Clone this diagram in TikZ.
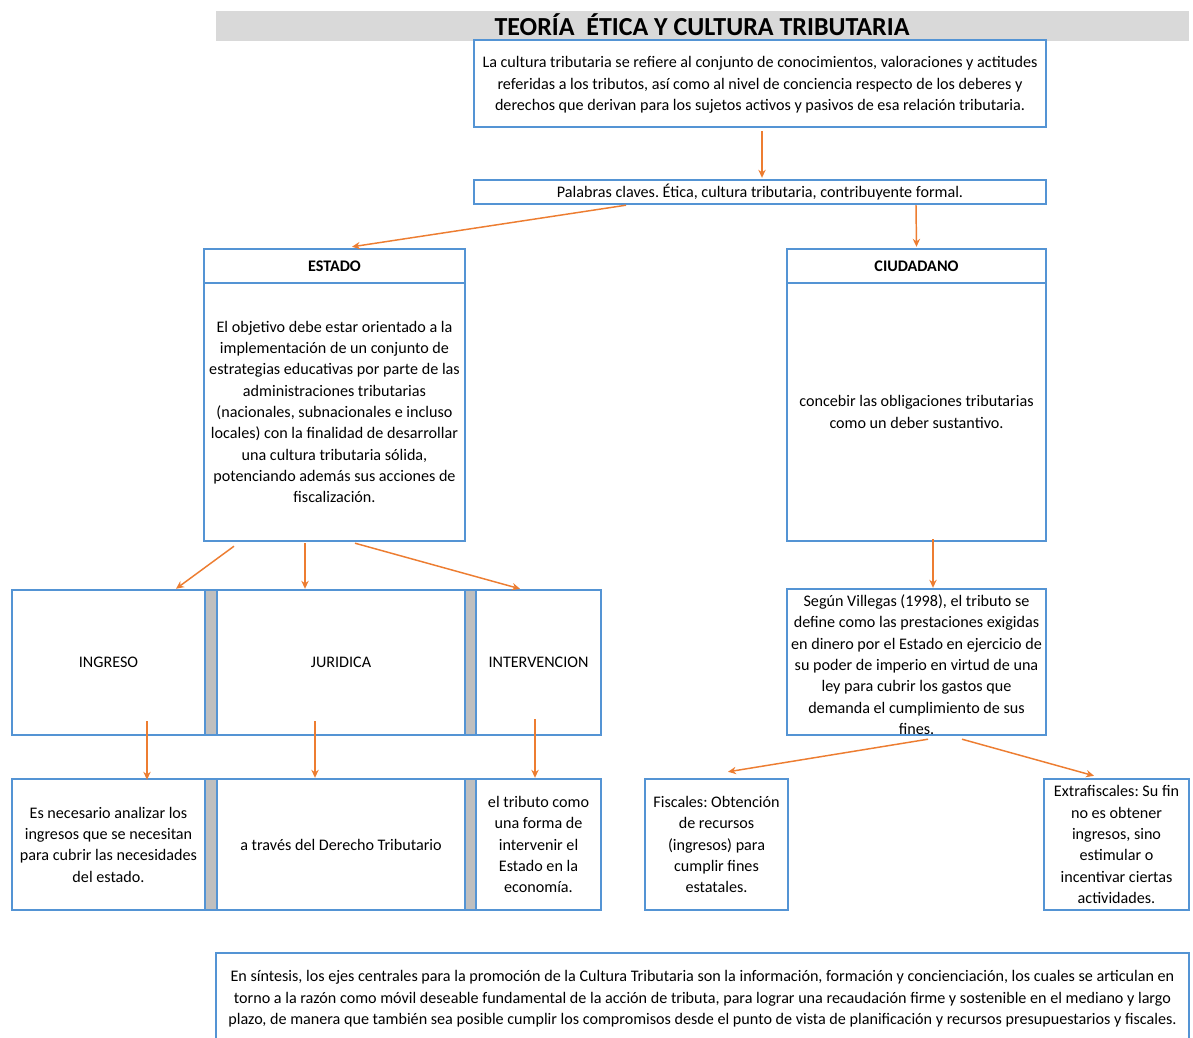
\documentclass[tikz,border=0pt]{standalone}
\usepackage{fontspec}
\setmainfont{Carlito}
\usetikzlibrary{arrows.meta,calc}
\definecolor{bblue}{RGB}{84,148,212}
\definecolor{arrorange}{RGB}{237,125,49}
\definecolor{titlegray}{RGB}{217,217,217}
\definecolor{sepgray}{RGB}{191,191,191}
\frenchspacing
\begin{document}
\begin{tikzpicture}[x=0.75pt,y=-0.75pt,
  sz/.style 2 args={minimum width=#1*0.75pt, minimum height=#2*0.75pt},
  box/.style={draw=bblue, line width=1.8pt, fill=white, inner sep=0pt, align=center,
    font=\fontsize{12.1}{16}\selectfont},
  hdr/.style={box, font=\bfseries\fontsize{12.1}{16}\selectfont},
  sepbar/.style={draw=bblue, line width=1.3pt, fill=sepgray, inner sep=0pt},
  arr/.style={draw=arrorange, line width=1.1pt, -{Stealth[length=6pt,width=5.5pt]}}]
\clip (0,0) rectangle (1193,1038);
\fill[white] (0,0) rectangle (1193,1038);
% title
\node[fill=titlegray, sz={973}{30}, inner sep=0pt] (title) at (702.5,26) {};
\node[inner sep=0pt, font=\bfseries\fontsize{19.5}{22}\selectfont] (titletxt) at (702,24.5) {TEORÍA~~ÉTICA Y CULTURA TRIBUTARIA};
% top
\node[box, sz={572}{87}] (top) at (760,83.5) {};
\node[inner sep=0pt, align=center, font=\fontsize{12.1}{16}\selectfont] (toptxt) at (760,85) {La cultura tributaria se refiere al conjunto de conocimientos, valoraciones y actitudes\\referidas a los tributos, así como al nivel de conciencia respecto de los deberes y\\derechos que derivan para los sujetos activos y pasivos de esa relación tributaria.};
\node[box, sz={572}{24}] (kw) at (760,192) {Palabras claves. Ética, cultura tributaria, contribuyente formal.};
% estado
\node[hdr, sz={261}{34}] (esth) at (334.5,266) {ESTADO};
\node[box, sz={261}{258}] (estb) at (334.5,412) {El objetivo debe estar orientado a la\\implementación de un conjunto de\\estrategias educativas por parte de las\\administraciones tributarias\\(nacionales, subnacionales e incluso\\locales) con la finalidad de desarrollar\\una cultura tributaria sólida,\\potenciando además sus acciones de\\fiscalización.};
% ciudadano
\node[hdr, sz={259}{34}] (ciuh) at (916.5,266) {CIUDADANO};
\node[box, sz={259}{258}] (ciub) at (916.5,412) {concebir las obligaciones tributarias\\como un deber sustantivo.};
% middle row
\node[box, sz={193}{145}] (ing) at (108.5,662.5) {INGRESO};
\node[box, sz={248}{145}] (jur) at (341,662.5) {JURIDICA};
\node[box, sz={125}{145}] (int) at (538.5,662.5) {INTERVENCION};
\node[sepbar, sz={12}{145}] (sep1) at (211,662.5) {};
\node[sepbar, sz={11}{145}] (sep2) at (470.5,662.5) {};
% bottom row
\node[box, sz={193}{131}] (ing2) at (108.5,844.5) {Es necesario analizar los\\ingresos que se necesitan\\para cubrir las necesidades\\del estado.};
\node[box, sz={248}{131}] (jur2) at (341,844.5) {a través del Derecho Tributario};
\node[box, sz={125}{131}] (int2) at (538.5,844.5) {el tributo como\\una forma de\\intervenir el\\Estado en la\\economía.};
\node[sepbar, sz={12}{131}] (sep3) at (211,844.5) {};
\node[sepbar, sz={11}{131}] (sep4) at (470.5,844.5) {};
% villegas
\node[box, sz={259}{146}] (vil) at (916.5,662) {};
\node[inner sep=0pt, align=center, font=\fontsize{12.1}{16}\selectfont] (viltxt) at (916.5,664.5) {Según Villegas (1998), el tributo se\\define como las prestaciones exigidas\\en dinero por el Estado en ejercicio de\\su poder de imperio en virtud de una\\ley para cubrir los gastos que\\demanda el cumplimiento de sus\\fines.};
\node[box, sz={143}{131}] (fis) at (716.5,844.5) {Fiscales: Obtención\\de recursos\\(ingresos) para\\cumplir fines\\estatales.};
\node[box, sz={145}{131}] (ext) at (1116.5,844.5) {Extrafiscales: Su fin\\no es obtener\\ingresos, sino\\estimular o\\incentivar ciertas\\actividades.};
% synthesis
\node[box, sz={973}{92}] (sint) at (702.5,999) {En síntesis, los ejes centrales para la promoción de la Cultura Tributaria son la información, formación y concienciación, los cuales se articulan en\\torno a la razón como móvil deseable fundamental de la acción de tributa, para lograr una recaudación firme y sostenible en el mediano y largo\\plazo, de manera que también sea posible cumplir los compromisos desde el punto de vista de planificación y recursos presupuestarios y fiscales.};
% arrows
\draw[arr] ($(top.south)+(2,3)$) -- ($(kw.north)+(2,-1)$);
\draw[arr] ($(kw.south)+(-134,0)$) -- ($(esth.north)+(17.5,-1)$);
\draw[arr] ($(kw.south)+(156,0)$) -- ($(ciuh.north)+(0,-1)$);
\draw[arr] ($(estb.south)+(-100.5,4)$) -- ($(ing.north)+(67.5,0)$);
\draw[arr] ($(estb.south)+(-29.5,1)$) -- ($(jur.north)+(-36,0)$);
\draw[arr] ($(estb.south)+(20.5,1)$) -- ($(int.north)+(-18.5,0)$);
\draw[arr] ($(ing.south)+(38.5,-15)$) -- ($(ing2.north)+(38.5,2)$);
\draw[arr] ($(jur.south)+(-26,-15)$) -- ($(jur2.north)+(-26,0)$);
\draw[arr] ($(int.south)+(-3.5,-17)$) -- ($(int2.north)+(-3.5,0)$);
\draw[arr] ($(ciub.south)+(16.5,-3)$) -- ($(vil.north)+(16.5,0)$);
\draw[arr] ($(vil.south)+(11.5,3)$) -- ($(fis.north)+(11.5,-6)$);
\draw[arr] ($(vil.south)+(45.5,3)$) -- ($(ext.north)+(-22.5,-2)$);
\end{tikzpicture}
\end{document}
